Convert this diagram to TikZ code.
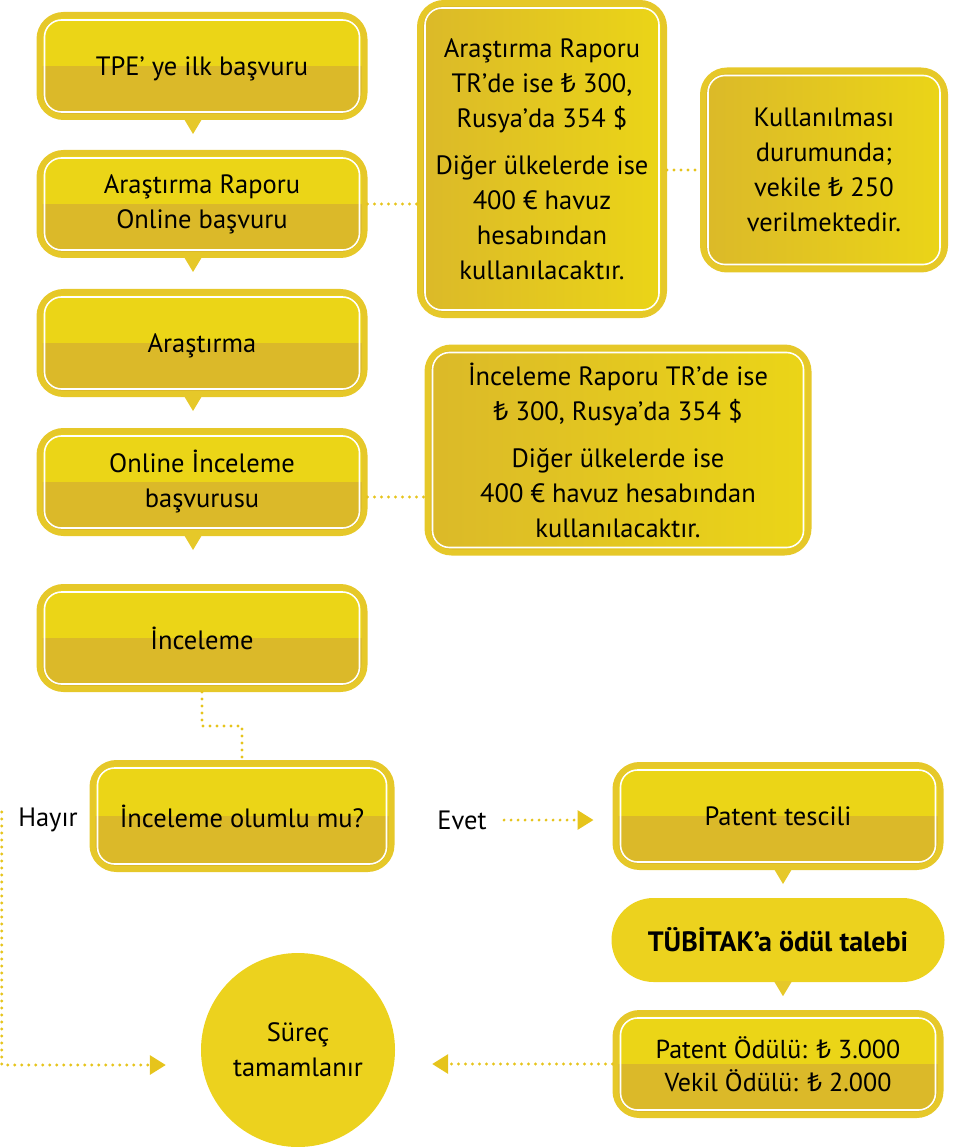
\documentclass[tikz,border=0pt]{standalone}
\usepackage{fontspec}
\setmainfont{PT Sans}
\newfontfamily\lirafont{Noto Sans}
\newcommand{\TL}{{\lirafont ₺}}
\usetikzlibrary{arrows.meta,calc}
\definecolor{goldhigh}{HTML}{EBD517}
\definecolor{goldlow}{HTML}{DBB929}
\definecolor{goldedge}{HTML}{E6C829}
\definecolor{goldflat}{HTML}{ECD21E}
\definecolor{golddot}{HTML}{E6C41C}

\begin{document}
\begin{tikzpicture}[
    x=1pt, y=1pt,
    every node/.style = {align=center, font=\fontsize{26.5}{35}\selectfont},
    whiteline/.style = {path picture={
        \draw[white, line width=1.6pt, rounded corners=17pt]
          ([shift={(5pt,-5pt)}]path picture bounding box.north west) rectangle
          ([shift={(-5pt,5pt)}]path picture bounding box.south east);}},
    stepbox/.style = {draw=goldedge, line width=6pt, rounded corners=24pt, fill=goldlow,
        minimum width=325pt, minimum height=102pt,
        path picture={
          \fill[goldhigh, sharp corners] (path picture bounding box.north west)
            rectangle (path picture bounding box.east);
          \draw[white, line width=1.6pt, rounded corners=17pt]
            ([shift={(5pt,-5pt)}]path picture bounding box.north west) rectangle
            ([shift={(-5pt,5pt)}]path picture bounding box.south east);}},
    notebox/.style = {draw=goldedge, line width=6pt, rounded corners=24pt,
        left color=goldlow, right color=goldhigh, inner sep=0pt, whiteline},
    pillbox/.style = {fill=goldflat, rounded corners=42pt, minimum width=333pt,
        minimum height=84pt, font=\fontsize{28}{35}\selectfont\bfseries},
    endcircle/.style = {circle, fill=goldflat, minimum size=194pt, inner sep=0pt},
    dotline/.style = {golddot, line width=3.2pt, line cap=round, dash pattern=on 0pt off 7pt},
    tipped/.style = {-{Triangle[length=16pt,width=19pt]}}
    ]
    \useasboundingbox (0,0) rectangle (956,-1147);

    % main column
    \node[stepbox, text depth=0pt] (b1) at (202,-66) {TPE’ ye ilk başvuru};
    \node[stepbox] (b2) at (202,-204) {Araştırma Raporu\\Online başvuru};
    \node[stepbox, text depth=0pt] (b3) at (202,-343) {Araştırma};
    \node[stepbox] (b4) at (202,-482) {Online İnceleme\\başvurusu};
    \node[stepbox] (b5) at (202,-638) {İnceleme};
    \node[stepbox, minimum width=299pt, minimum height=106pt] (karar) at (242,-816) {İnceleme olumlu mu?};
    \node (hayir) at (48,-820) {Hayır};
    \node (evet) at (462,-820) {Evet};

    % right column
    \node[stepbox, text depth=0pt] (tescil) at (778,-816) {Patent tescili};
    \node[pillbox] (tubitak) at (778,-940) {TÜBİTAK’a ödül talebi};
    \node[stepbox, font=\fontsize{26}{33}\selectfont] (odul) at (778,-1064)
      {Patent Ödülü: \TL\ 3.000\\Vekil Ödülü: \TL\ 2.000};
    \node[endcircle] (surec) at (298,-1050) {Süreç\\tamamlanır};

    % notes
    \node[notebox, minimum width=244pt, minimum height=312pt] (notA) at (542,-159)
      {Araştırma Raporu\\TR’de ise \TL\ 300,\\Rusya’da 354 \$\\[12pt]
       Diğer ülkelerde ise\\400 € havuz\\hesabından\\kullanılacaktır.};
    \node[notebox, minimum width=242pt, minimum height=199pt] (notB) at (824,-170)
      {Kullanılması\\durumunda;\\vekile \TL\ 250\\verilmektedir.};
    \node[notebox, minimum width=381pt, minimum height=205pt] (notC) at (618,-450)
      {İnceleme Raporu TR’de ise\\\TL\ 300, Rusya’da 354 \$\\[12pt]
       Diğer ülkelerde ise\\400 € havuz hesabından\\kullanılacaktır.};

    % pointers under boxes
    \foreach \n in {b1,b2,b3,b4}
      \fill[goldedge] ([xshift=-18pt,yshift=1pt]\n.south) -- ([xshift=0pt,yshift=1pt]\n.south)
        -- ([xshift=-9pt,yshift=-14pt]\n.south) -- cycle;
    \foreach \n in {tescil,tubitak}
      \fill[goldedge] ([xshift=-4pt,yshift=1pt]\n.south) -- ([xshift=14pt,yshift=1pt]\n.south)
        -- ([xshift=5pt,yshift=-14pt]\n.south) -- cycle;

    % connectors
    \draw[dotline] (b2.east) -- (b2.east -| notA.west);
    \draw[dotline] (notB.west -| notA.east) -- (notB.west);
    \draw[dotline] ([yshift=-15pt]b4.east) -- ([yshift=-15pt]b4.east -| notC.west);
    \draw[dotline] (b5.south) |- ($(b5.south)!0.5!(karar.north)$) -| (karar.north);
    \draw[dotline, tipped, shorten <=14pt, shorten >=19pt] (evet.east) -- (evet.east -| tescil.west);
    \draw[dotline, tipped, shorten >=35pt] ([xshift=-13pt,yshift=8pt]hayir.west)
      |- ([yshift=-15pt]surec.west);
    \draw[dotline, tipped, shorten >=37pt] (odul.west) -- (odul.west -| surec.east);
\end{tikzpicture}
\end{document}
